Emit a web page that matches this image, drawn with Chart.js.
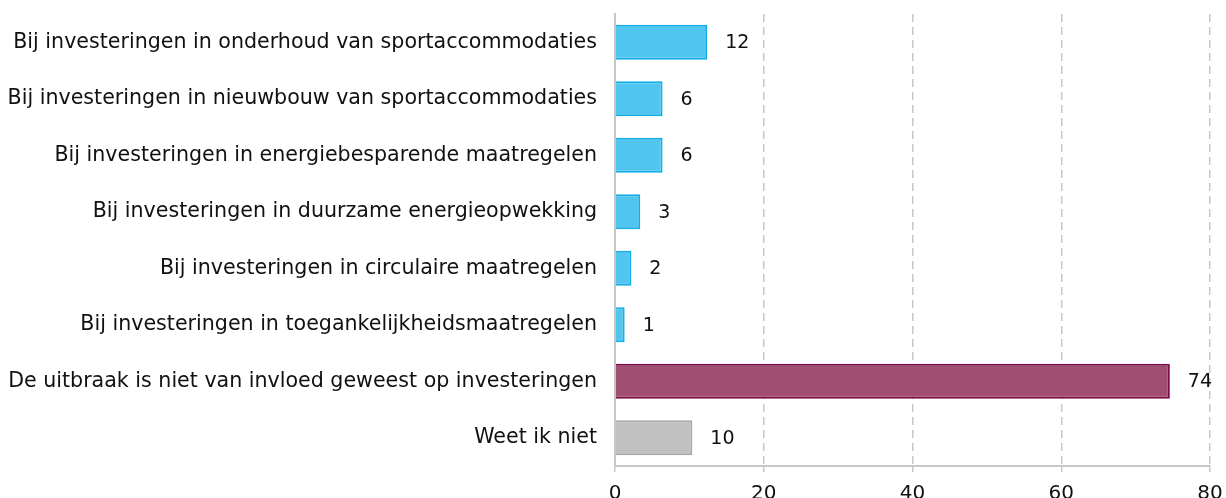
<!DOCTYPE html>
<html lang="nl">
<head>
    <meta charset="UTF-8">
    <title>Invloed uitbraak op investeringen</title>
    <script src="https://cdn.jsdelivr.net/npm/chart.js@4.4.0/dist/chart.umd.min.js"></script>
    <style>
        html, body { margin: 0; padding: 0; background: #fff; }
        #wrap { width: 1226px; height: 498px; }
    </style>
</head>
<body>
<div id="wrap"><canvas id="myChart"></canvas></div>

<script>
    // categories and values
    const categories = [
        'Bij investeringen in onderhoud van sportaccommodaties',
        'Bij investeringen in nieuwbouw van sportaccommodaties',
        'Bij investeringen in energiebesparende maatregelen',
        'Bij investeringen in duurzame energieopwekking',
        'Bij investeringen in circulaire maatregelen',
        'Bij investeringen in toegankelijkheidsmaatregelen',
        'De uitbraak is niet van invloed geweest op investeringen',
        'Weet ik niet'
    ];
    const values = [12.4, 6.4, 6.4, 3.4, 2.2, 1.3, 74.6, 10.4];
    const valueLabels = ['12', '6', '6', '3', '2', '1', '74', '10'];
    const fillColors = ['#4fc5f0', '#4fc5f0', '#4fc5f0', '#4fc5f0', '#4fc5f0', '#4fc5f0', '#a04f73', '#c0c0c0'];
    const borderColors = ['#14aee6', '#14aee6', '#14aee6', '#14aee6', '#14aee6', '#14aee6', '#7c0b47', '#a9a9a9'];
    const xTicks = [0, 20, 40, 60, 80];

    const FONT = "'DejaVu Sans', Verdana, sans-serif";

    // write the value next to each bar
    const valueLabelPlugin = {
        id: 'valueLabels',
        afterDatasetsDraw(chart) {
            const ctx = chart.ctx;
            const meta = chart.getDatasetMeta(0);
            ctx.save();
            ctx.font = '19px ' + FONT;
            ctx.fillStyle = '#111';
            ctx.textAlign = 'left';
            ctx.textBaseline = 'middle';
            meta.data.forEach(function (bar, i) {
                ctx.fillText(valueLabels[i], bar.x + 18, bar.y + 1);
            });
            ctx.restore();
        }
    };

    const ctx = document.getElementById('myChart').getContext('2d');
    const myChart = new Chart(ctx, {
        type: 'bar',
        data: {
            labels: categories,
            datasets: [{
                data: values,
                backgroundColor: fillColors,
                borderColor: borderColors,
                borderWidth: 2,
                borderSkipped: 'left',
                barPercentage: 0.62,
                categoryPercentage: 1
            }]
        },
        options: {
            indexAxis: 'y',
            responsive: true,
            maintainAspectRatio: false,
            animation: false,
            layout: { padding: { top: 14, right: 16, left: 0, bottom: 0 } },
            plugins: {
                legend: { display: false },
                tooltip: { enabled: false }
            },
            scales: {
                x: {
                    min: 0,
                    max: 80,
                    afterBuildTicks(axis) {
                        axis.ticks = xTicks.map(v => ({ value: v }));
                    },
                    afterFit(axis) {
                        axis.height = 32;
                        axis.paddingLeft = 0;
                        axis.paddingRight = 0;
                    },
                    grid: {
                        color: '#c8c8c8',
                        lineWidth: 1.5,
                        tickLength: 6
                    },
                    border: { color: '#c8c8c8', width: 2, dash: [8, 5] },
                    ticks: {
                        color: '#111',
                        font: { family: FONT, size: 20 },
                        padding: 10
                    }
                },
                y: {
                    afterFit(axis) {
                        axis.width = 615;
                        axis.paddingTop = 0;
                        axis.paddingBottom = 0;
                    },
                    grid: { display: false },
                    border: { color: '#c8c8c8', width: 2 },
                    ticks: {
                        color: '#111',
                        font: { family: FONT, size: 20.6 },
                        padding: 10
                    }
                }
            }
        },
        plugins: [valueLabelPlugin]
    });
</script>
</body>
</html>
